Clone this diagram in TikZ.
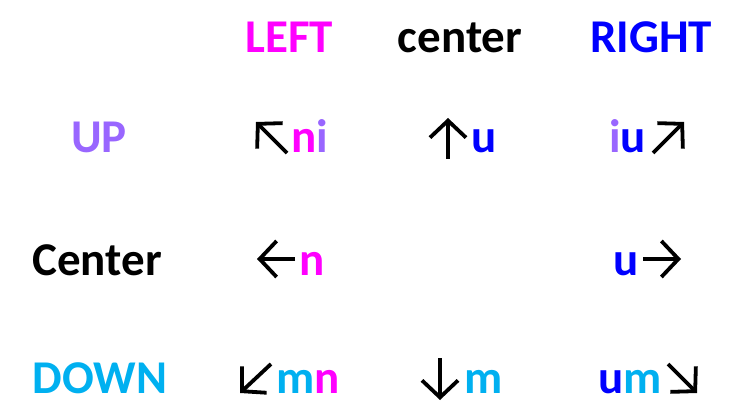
\documentclass[tikz,border=0pt]{standalone}
\usepackage{fontspec}
\setmainfont{Carlito}
\usepackage{xcolor}
\usepackage{tikz}
\usetikzlibrary{arrows.meta}

\definecolor{magentaL}{HTML}{FF00FF}
\definecolor{blueR}{HTML}{0000FF}
\definecolor{purpleU}{HTML}{9966FF}
\definecolor{cyanD}{HTML}{00B0F0}

\tikzset{
  lbl/.style={anchor=base, inner sep=0pt, font=\fontsize{47}{56}\selectfont\bfseries},
  arw/.style={line width=3.8pt, -{Straight Barb[length=17pt,width=36pt]}}
}

\begin{document}
\begin{tikzpicture}[x=1pt,y=-1pt]

\useasboundingbox (0,0) rectangle (743,419);

% headers
\node[lbl, text=magentaL] (hleft)   at (289,53) {LEFT};
\node[lbl, text=black]    (hcenter) at (460,53) {center};
\node[lbl, text=blueR]    (hright)  at (651,53) {RIGHT};

% row labels
\node[lbl, text=purpleU] (rup)     at (99,153) {UP};
\node[lbl, text=black]   (rcenter) at (97,276) {Center};
\node[lbl, text=cyanD]   (rdown)   at (100,393) {DOWN};

% up row
\node[lbl, anchor=base west] (upleft)   at (291,153) {\textcolor{magentaL}{n}\textcolor{purpleU}{i}};
\node[lbl, anchor=base west] (upcenter) at (471,153) {\textcolor{blueR}{u}};
\node[lbl, anchor=base east] (upright)  at (646,153) {\textcolor{purpleU}{i}\textcolor{blueR}{u}};
\draw[arw] (287,153) -- (256,122);
\draw[arw] (448,159) -- (448,118);
\draw[arw] (653,153) -- (684,122);

% center row
\node[lbl, anchor=base west] (midleft)  at (299,276) {\textcolor{magentaL}{n}};
\node[lbl, anchor=base east] (midright) at (639,276) {\textcolor{blueR}{u}};
\draw[arw] (295,259) -- (257,259);
\draw[arw] (643,259) -- (681,259);

% down row
\node[lbl, anchor=base west] (downleft)   at (276,393) {\textcolor{cyanD}{m}\textcolor{magentaL}{n}};
\node[lbl, anchor=base west] (downcenter) at (464,393) {\textcolor{cyanD}{m}};
\node[lbl, anchor=base east] (downright)  at (662,393) {\textcolor{blueR}{u}\textcolor{cyanD}{m}};
\draw[arw] (271,364) -- (240,393);
\draw[arw] (440,358) -- (440,400);
\draw[arw] (668,364) -- (697,393);

\end{tikzpicture}
\end{document}
